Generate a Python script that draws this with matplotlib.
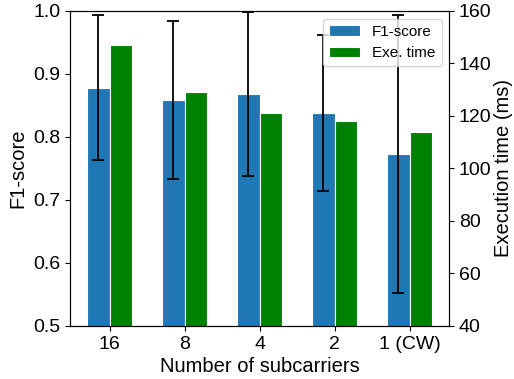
import numpy as np
import matplotlib.pyplot as plt

plt.rcParams['font.family'] = ['Liberation Sans', 'DejaVu Sans']

labels = ['16', '8', '4', '2', '1 (CW)']
f1_mean = [0.878, 0.859, 0.868, 0.838, 0.773]
f1_err = [0.115, 0.125, 0.130, 0.124, 0.220]
exe_time = [147.0, 129.1, 121.0, 118.1, 113.9]

x = np.arange(len(labels))
w = 0.3

fig = plt.figure(figsize=(5.14, 3.79), dpi=100)
ax1 = fig.add_axes([0.136, 0.140, 0.738, 0.831])
ax2 = ax1.twinx()

b1 = ax1.bar(x - w / 2, f1_mean, w, color='#1f77b4', edgecolor='white',
             linewidth=0.8, label='F1-score')
ax1.errorbar(x - w / 2, f1_mean, yerr=f1_err, fmt='none', ecolor='black',
             elinewidth=1.3, capsize=4.5, capthick=1.3)
b2 = ax2.bar(x + w / 2, exe_time, w, color='green', edgecolor='white',
             linewidth=0.8, label='Exe. time')

ax1.set_ylim(0.5, 1.0)
ax2.set_ylim(40, 160)
ax1.set_yticks([0.5, 0.6, 0.7, 0.8, 0.9, 1.0])
ax2.set_yticks([40, 60, 80, 100, 120, 140, 160])
ax1.set_xticks(x)
ax1.set_xticklabels(labels)

ax1.tick_params(labelsize=14)
ax2.tick_params(labelsize=14)
ax1.set_xlabel('Number of subcarriers', fontsize=14.5, labelpad=3)
ax1.set_ylabel('F1-score', fontsize=14.5)
ax2.set_ylabel('Execution time (ms)', fontsize=14.5, labelpad=2)

ax2.legend([b1, b2], ['F1-score', 'Exe. time'], loc='upper right', fontsize=11)

fig.savefig('out.png', dpi=100)
